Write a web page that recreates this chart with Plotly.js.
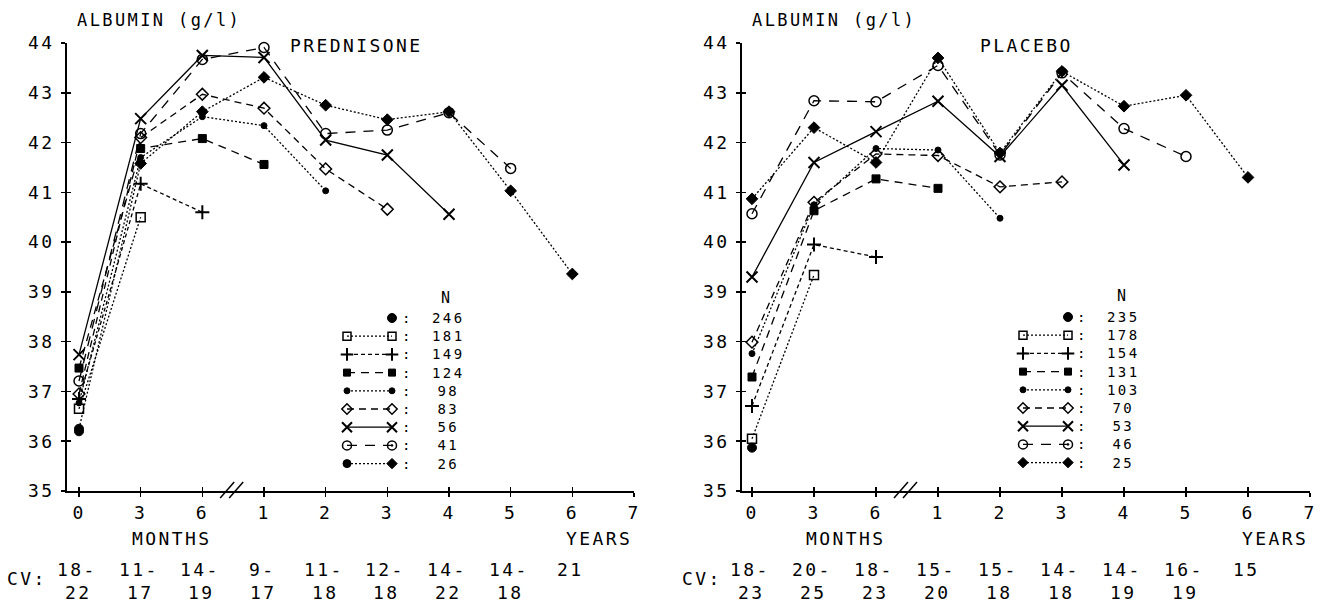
<!DOCTYPE html>
<html>
<head>
<meta charset="utf-8">
<script src="https://cdn.plot.ly/plotly-3.0.1.min.js"></script>
<style>
  html, body { margin: 0; padding: 0; background: #fff; }
  #chart { width: 1324px; height: 608px; }
  svg text { letter-spacing: 2.4px; }
</style>
</head>
<body>
<div id="chart"></div>
<script>
// ---------------- DATA ----------------
const tickText = ['0', '3', '6', '1', '2', '3', '4', '5', '6', '7'];
const timeIdx = [0, 1, 2, 3, 4, 5, 6, 7, 8]; // 0, 3, 6 months, 1..6 years

// Prednisone group, albumin (g/l) per cohort (N)
const predN = [246, 181, 149, 124, 98, 83, 56, 41, 26];
const pred246 = [36.2];
const pred181 = [36.65, 40.5];
const pred149 = [36.85, 41.17, 40.6];
const pred124 = [37.47, 41.88, 42.08, 41.56];
const pred98  = [36.77, 41.7, 42.52, 42.34, 41.03];
const pred83  = [36.95, 42.1, 42.97, 42.69, 41.47, 40.66];
const pred56  = [37.74, 42.48, 43.75, 43.71, 42.05, 41.75, 40.56];
const pred41  = [37.21, 42.18, 43.67, 43.91, 42.18, 42.25, 42.6, 41.48];
const pred26  = [36.25, 41.58, 42.62, 43.31, 42.75, 42.46, 42.62, 41.03, 39.36];
const predCvTop = ['18-', '11-', '14-', '9-', '11-', '12-', '14-', '14-', '21'];
const predCvBot = ['22', '17', '19', '17', '18', '18', '22', '18', ''];

// Placebo group
const placN = [235, 178, 154, 131, 103, 70, 53, 46, 25];
const plac235 = [35.87];
const plac178 = [36.05, 39.34];
const plac154 = [36.71, 39.95, 39.7];
const plac131 = [37.29, 40.63, 41.27, 41.08];
const plac103 = [37.76, 40.75, 41.88, 41.85, 40.48];
const plac70  = [37.99, 40.8, 41.77, 41.74, 41.11, 41.21];
const plac53  = [39.3, 41.6, 42.22, 42.83, 41.72, 43.15, 41.55];
const plac46  = [40.57, 42.84, 42.82, 43.55, 41.75, 43.4, 42.28, 41.72];
const plac25  = [40.87, 42.3, 41.6, 43.7, 41.79, 43.43, 42.73, 42.95, 41.3];
const placCvTop = ['18-', '20-', '18-', '15-', '15-', '14-', '14-', '16-', '15'];
const placCvBot = ['23', '25', '23', '20', '18', '18', '19', '19', ''];

// ---------------- STYLE ----------------
const W = 1324, H = 608;
const FONT = 'DejaVu Sans Mono, monospace';
const FS = 18;
const LFS = 14; // key font (line pitch 1.3em = 18.2px)
const INK = '#000';
const px = x => x / W;
const py = y => 1 - y / H;

const SYM  = ['circle', 'square-open', 'cross-thin-open', 'square', 'circle', 'diamond-open', 'x-thin-open', 'circle-open', 'diamond'];
const SIZE = [9, 9, 10, 8, 6, 9, 11, 10, 9];
const MLW  = [1, 1.5, 2, 1, 1, 1.5, 2, 1.5, 1];
const DASH = ['solid', '2px,2px', '4px,3px', '8px,6px', '2px,2px', '7px,5px', 'solid', '10px,8px', '2px,2px'];
const LW = 1.3;

const yTop = 43, yBot = 491;
const panels = [
  { xa: 'x', ya: 'y', ox: 'x3', oy: 'y3', axisPix: 67, zeroPix: 79, ninePix: 634,
    title: 'PREDNISONE', titleX: 356, albX: 75, cvX: 5,
    series: [pred246, pred181, pred149, pred124, pred98, pred83, pred56, pred41, pred26],
    n: predN, cvTop: predCvTop, cvBot: predCvBot,
    leg: { L: 347, R: 392, colon: 407, numR: 467, nX: 446, nY: 298, row0: 318, step: 18.2 },
    legLeftSym: ['circle', 'square-open', 'cross-thin-open', 'square', 'circle', 'diamond-open', 'x-thin-open', 'circle-open', 'circle'],
    firstSym26: 'circle' },
  { xa: 'x2', ya: 'y2', ox: 'x4', oy: 'y4', axisPix: 742, zeroPix: 752, ninePix: 1310,
    title: 'PLACEBO', titleX: 1026, albX: 750, cvX: 680,
    series: [plac235, plac178, plac154, plac131, plac103, plac70, plac53, plac46, plac25],
    n: placN, cvTop: placCvTop, cvBot: placCvBot,
    leg: { L: 1023, R: 1068, colon: 1082, numR: 1142, nX: 1122, nY: 296, row0: 317, step: 18.2 },
    legLeftSym: ['circle', 'square-open', 'cross-thin-open', 'square', 'circle', 'diamond-open', 'x-thin-open', 'circle-open', 'diamond'],
    firstSym26: 'diamond' }
];

const traces = [];
const annotations = [];
const shapes = [];
const layout = {
  width: W, height: H,
  margin: { l: 0, r: 0, t: 0, b: 0 },
  paper_bgcolor: '#fff', plot_bgcolor: 'rgba(0,0,0,0)',
  showlegend: false,
  font: { family: FONT, size: FS, color: INK },
  annotations: annotations, shapes: shapes
};

const tickFont = { family: FONT, size: FS, color: INK };
const txt = (x, y, text, xanchor, size) => annotations.push({
  xref: 'paper', yref: 'paper', x: px(x), y: py(y), text: text, showarrow: false,
  xanchor: xanchor, yanchor: 'middle', font: { family: FONT, size: size || FS, color: INK }
});

panels.forEach((p) => {
  const step = (p.ninePix - p.zeroPix) / 9;
  const xr = [-(p.zeroPix - p.axisPix) / step, 9];
  const xdom = [px(p.axisPix), px(p.ninePix)];
  const ydom = [py(yBot), py(yTop)];
  const xName = p.xa === 'x' ? 'xaxis' : 'xaxis' + p.xa.slice(1);
  const yName = p.ya === 'y' ? 'yaxis' : 'yaxis' + p.ya.slice(1);
  layout[xName] = {
    domain: xdom, range: xr, anchor: p.ya, fixedrange: true,
    tickmode: 'array', tickvals: [0,1,2,3,4,5,6,7,8,9], ticktext: tickText,
    ticks: 'outside', ticklen: 4, tickwidth: 1.5, tickcolor: INK,
    showline: true, linewidth: 2, linecolor: INK, showgrid: false, zeroline: false,
    tickfont: tickFont, ticklabelstandoff: 0
  };
  layout[yName] = {
    domain: ydom, range: [35, 44], anchor: p.xa, fixedrange: true,
    tickmode: 'linear', tick0: 35, dtick: 1,
    ticks: 'outside', ticklen: 4, tickwidth: 1.5, tickcolor: INK,
    showline: true, linewidth: 2, linecolor: INK, showgrid: false, zeroline: false,
    tickfont: tickFont, ticklabelstandoff: 3
  };
  // overlay axes for crossing ticks
  const oxName = 'xaxis' + p.ox.slice(1), oyName = 'yaxis' + p.oy.slice(1);
  layout[oxName] = {
    overlaying: p.xa, anchor: p.oy, range: xr, fixedrange: true,
    tickmode: 'array', tickvals: [0,1,2,3,4,5,6,7,8,9],
    ticks: 'inside', ticklen: 4, tickwidth: 1.5, tickcolor: INK,
    showticklabels: false, showline: false, showgrid: false, zeroline: false
  };
  layout[oyName] = {
    overlaying: p.ya, anchor: p.ox, range: [35, 44], fixedrange: true,
    tickmode: 'linear', tick0: 35, dtick: 1,
    ticks: 'inside', ticklen: 4, tickwidth: 1.5, tickcolor: INK,
    showticklabels: false, showline: false, showgrid: false, zeroline: false
  };
  traces.push({ type: 'scatter', x: [], y: [], xaxis: p.ox, yaxis: p.oy, hoverinfo: 'skip' });

  // data series
  p.series.forEach((vals, i) => {
    const xs = timeIdx.slice(0, vals.length);
    let sym = SYM[i];
    if (i === 8 && p.firstSym26 !== SYM[8]) {
      sym = vals.map((v, j) => j === 0 ? p.firstSym26 : SYM[8]);
    }
    traces.push({
      type: 'scatter', mode: vals.length > 1 ? 'lines+markers' : 'markers',
      x: xs, y: vals, xaxis: p.xa, yaxis: p.ya, cliponaxis: false,
      name: 'N=' + p.n[i],
      line: { color: INK, width: LW, dash: DASH[i] },
      marker: { symbol: sym, size: SIZE[i], color: INK, opacity: 1, line: { color: INK, width: MLW[i] } },
      hoverinfo: 'skip'
    });
  });

  // custom key in pixel space
  const L = p.leg;
  p.n.forEach((nv, i) => {
    const ry = L.row0 + L.step * i;
    if (i === 0) {
      traces.push({ type: 'scatter', mode: 'markers', x: [L.R], y: [ry], xaxis: 'x5', yaxis: 'y5',
        cliponaxis: false, hoverinfo: 'skip',
        marker: { symbol: SYM[0], size: SIZE[0], color: INK, line: { color: INK, width: 1 } } });
    } else {
      const rightSym = i === 7 ? 'circle-open-dot' : SYM[i];
      traces.push({ type: 'scatter', mode: 'lines+markers', x: [L.L, L.R], y: [ry, ry],
        xaxis: 'x5', yaxis: 'y5', cliponaxis: false, hoverinfo: 'skip',
        line: { color: INK, width: LW, dash: DASH[i] },
        marker: { symbol: [p.legLeftSym[i], rightSym], size: Math.max(SIZE[i] - 1, 6), color: INK,
                  line: { color: INK, width: MLW[i] } } });
    }
  });
  const midY = L.row0 + L.step * (p.n.length - 1) / 2;
  txt(L.colon, midY, p.n.map(() => ':').join('<br>'), 'center', LFS);
  txt(L.numR, midY, p.n.map(String).join('<br>'), 'right', LFS);
  txt(L.nX, L.nY, 'N', 'center', LFS + 1);

  // titles
  txt(p.albX, 20, 'ALBUMIN (g/l)', 'left', FS - 1);
  txt(p.titleX, 45.5, p.title, 'center', FS);
  // axis captions
  txt(p.zeroPix + 1.5 * step, 538, 'MONTHS', 'center', FS);
  txt(p.ninePix, 538, 'YEARS', 'right', FS);
  // CV rows
  txt(p.cvX, 578, 'CV:', 'left', FS);
  p.cvTop.forEach((t, j) => {
    const cx = p.zeroPix + j * step - 2;
    txt(cx, 569, t, 'center', FS);
    if (p.cvBot[j]) txt(cx + 1, 592, p.cvBot[j], 'center', FS);
  });
  // axis break mark "//"
  const bx = p.zeroPix + 2.5 * step;
  [-9, 0].forEach((a) => {
    shapes.push({ type: 'line', xref: 'paper', yref: 'paper',
      x0: px(bx + a - 4), y0: py(498), x1: px(bx + a + 10), y1: py(482),
      line: { color: INK, width: 1.5 } });
  });
});

layout.xaxis5 = { domain: [0, 1], range: [0, W], anchor: 'y5', visible: false, fixedrange: true };
layout.yaxis5 = { domain: [0, 1], range: [H, 0], anchor: 'x5', visible: false, fixedrange: true };

Plotly.newPlot('chart', traces, layout, { staticPlot: true, displayModeBar: false });
</script>
</body>
</html>
